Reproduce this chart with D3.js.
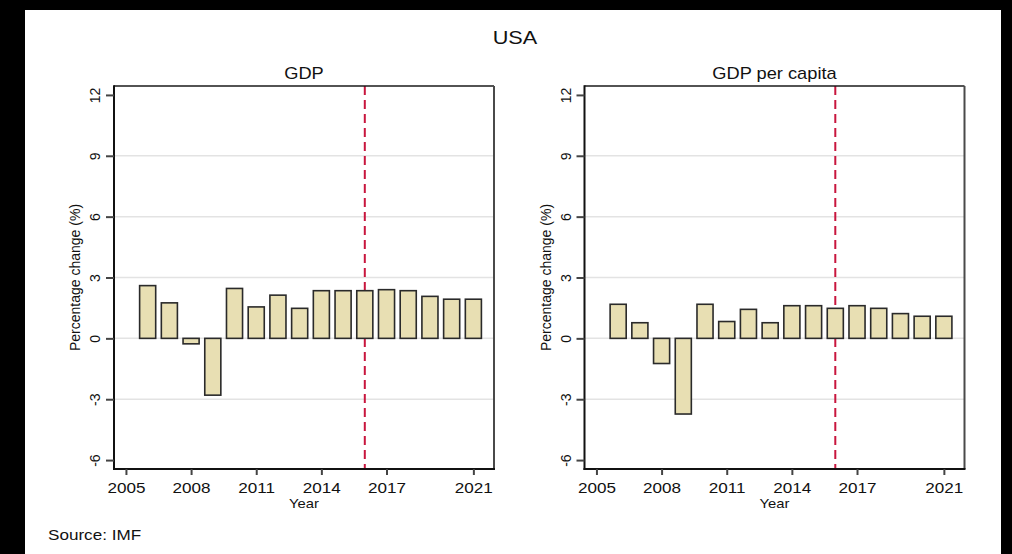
<!DOCTYPE html>
<html>
<head>
<meta charset="utf-8">
<script src="https://cdn.jsdelivr.net/npm/d3@7"></script>
<style>
  html, body { margin: 0; padding: 0; background: #000; }
  svg { display: block; }
  text { font-family: "Liberation Sans", Arial, sans-serif; fill: #111; }
</style>
</head>
<body>
<svg id="chart" width="1012" height="554"></svg>
<script>
// Annual percentage change, USA (IMF)
const years = [2006, 2007, 2008, 2009, 2010, 2011, 2012, 2013, 2014, 2015, 2016, 2017, 2018, 2019, 2020, 2021];
const gdpGrowth = [2.6, 1.75, -0.27, -2.8, 2.46, 1.55, 2.13, 1.48, 2.35, 2.35, 2.35, 2.4, 2.35, 2.07, 1.93, 1.93];
const gdpPerCapitaGrowth = [1.68, 0.77, -1.24, -3.73, 1.68, 0.83, 1.43, 0.77, 1.61, 1.61, 1.48, 1.61, 1.48, 1.22, 1.09, 1.09];
const yTicks = [-6, -3, 0, 3, 6, 9, 12];
const gridValues = [-3, 0, 3, 6, 9];
const xTicks = [2005, 2008, 2011, 2014, 2017, 2021];
const markerYear = 2016;
const panelTitles = ["GDP", "GDP per capita"];

const svg = d3.select("#chart");
const SX = 1.14; // horizontal stretch applied to horizontal text

// white page area inside black border
svg.append("rect").attr("x", 25).attr("y", 10).attr("width", 976).attr("height", 544).attr("fill", "#fff");

svg.append("text")
  .attr("text-anchor", "middle")
  .attr("transform", `translate(515,44) scale(${SX},1)`)
  .style("font-size", "19px")
  .text("USA");

svg.append("text")
  .attr("transform", `translate(48,540) scale(${SX},1)`)
  .style("font-size", "15px")
  .text("Source: IMF");

const plotW = 380, plotH = 383;
const x = d3.scaleLinear().domain([2004.45, 2021.95]).range([0, plotW]);
const y = d3.scaleLinear().domain([-6.44, 12.44]).range([plotH, 0]);
const barW = (x(1) - x(0)) * 0.74;

function drawPanel(left, top, title, values) {
  const g = svg.append("g").attr("transform", `translate(${left},${top})`);

  // horizontal grid lines
  g.selectAll("line.grid").data(gridValues).join("line")
    .attr("class", "grid")
    .attr("x1", 0).attr("x2", plotW)
    .attr("y1", d => y(d)).attr("y2", d => y(d))
    .attr("stroke", "#e3e3e3").attr("stroke-width", 1.5);

  // marker year
  g.append("line")
    .attr("x1", x(markerYear)).attr("x2", x(markerYear))
    .attr("y1", 0).attr("y2", plotH)
    .attr("stroke", "#c8163e").attr("stroke-width", 2)
    .attr("stroke-dasharray", "9,5");

  // bars
  g.selectAll("rect.bar").data(years.map((yr, i) => ({ yr, v: values[i] }))).join("rect")
    .attr("class", "bar")
    .attr("x", d => x(d.yr) - barW / 2)
    .attr("width", barW)
    .attr("y", d => y(Math.max(0, d.v)))
    .attr("height", d => Math.abs(y(d.v) - y(0)))
    .attr("fill", "#e8dfb3")
    .attr("stroke", "#2a2a2a")
    .attr("stroke-width", 1.6);

  // frame
  g.append("line").attr("x1", 0).attr("x2", plotW).attr("y1", 0).attr("y2", 0)
    .attr("stroke", "#1a1a1a").attr("stroke-width", 1.5);
  g.append("line").attr("x1", plotW).attr("x2", plotW).attr("y1", 0).attr("y2", plotH)
    .attr("stroke", "#4a4a4a").attr("stroke-width", 2);
  g.append("line").attr("x1", 0).attr("x2", 0).attr("y1", -0.75).attr("y2", plotH + 1)
    .attr("stroke", "#111").attr("stroke-width", 2);
  g.append("line").attr("x1", -1).attr("x2", plotW + 1).attr("y1", plotH).attr("y2", plotH)
    .attr("stroke", "#111").attr("stroke-width", 2);

  // y axis
  const ya = g.append("g")
    .call(d3.axisLeft(y).tickValues(yTicks).tickSize(8).tickFormat(d => String(d)));
  ya.select(".domain").remove();
  ya.selectAll(".tick line").attr("stroke", "#444").attr("stroke-width", 2);
  ya.selectAll(".tick text")
    .attr("x", null).attr("dy", null).attr("y", null)
    .attr("text-anchor", "middle")
    .attr("transform", "translate(-14,0) rotate(-90)")
    .style("font-size", "14px").attr("fill", "#111");

  // x axis
  const xa = g.append("g").attr("transform", `translate(0,${plotH})`)
    .call(d3.axisBottom(x).tickValues(xTicks).tickSize(6).tickFormat(d => String(d)));
  xa.select(".domain").remove();
  xa.selectAll(".tick line").attr("stroke", "#444").attr("stroke-width", 2);
  xa.selectAll(".tick text")
    .attr("y", null).attr("dy", null)
    .attr("transform", `translate(0,24) scale(${SX},1)`)
    .style("font-size", "15px").attr("fill", "#111");

  // axis titles
  g.append("text")
    .attr("text-anchor", "middle")
    .attr("transform", `translate(${plotW / 2},${plotH + 39}) scale(${SX},1)`)
    .style("font-size", "13px")
    .text("Year");

  g.append("text")
    .attr("text-anchor", "middle")
    .attr("transform", `translate(-34,${plotH / 2}) rotate(-90)`)
    .style("font-size", "14px")
    .text("Percentage change (%)");

  // panel title
  g.append("text")
    .attr("text-anchor", "middle")
    .attr("transform", `translate(${plotW / 2},-7) scale(${SX},1)`)
    .style("font-size", "16px")
    .text(title);
}

drawPanel(114, 86, panelTitles[0], gdpGrowth);
drawPanel(584.5, 86, panelTitles[1], gdpPerCapitaGrowth);
</script>
</body>
</html>
